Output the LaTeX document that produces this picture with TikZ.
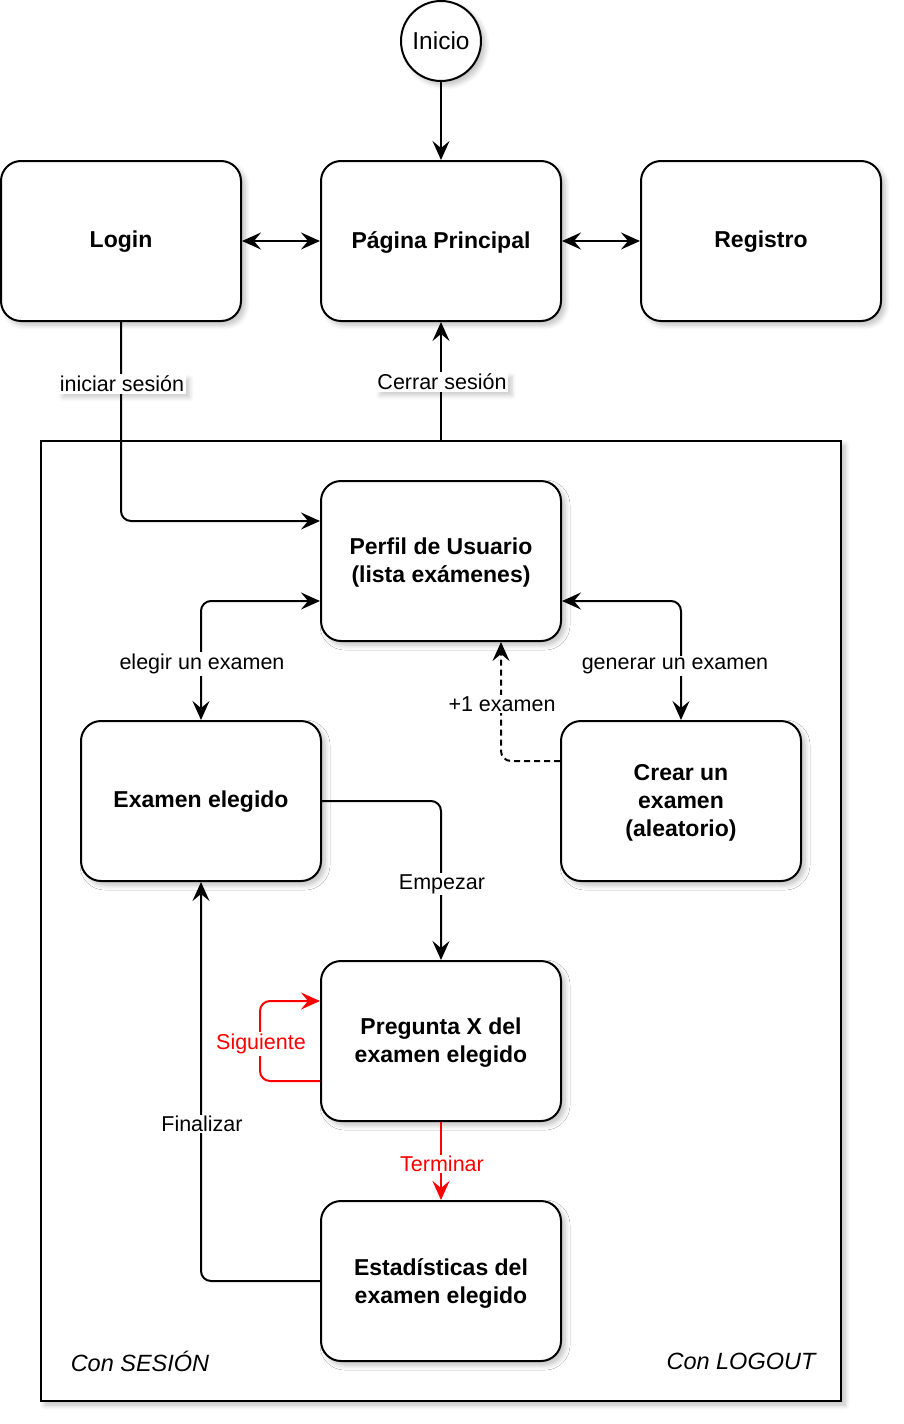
\documentclass[tikz,border=0pt]{standalone}
\usepackage{fontspec}
\setmainfont{Liberation Sans}
\usetikzlibrary{arrows.meta,shadows.blur,calc}
\begin{document}
\begin{tikzpicture}[x=1pt,y=-1pt,
  shd/.style={blur shadow={shadow xshift=4pt,shadow yshift=-4pt,shadow blur radius=5pt,shadow blur steps=6,shadow opacity=25}},
  box/.style={draw,line width=2pt,rounded corners=20pt,minimum width=240pt,minimum height=160pt,align=center,
    font=\fontsize{23}{28}\selectfont\bfseries,fill=white,shd},
  ln/.style={line width=2pt,rounded corners=10pt},
  arr/.style={ln,-{Stealth[length=19pt,width=17pt,inset=7pt]}},
  both/.style={ln,{Stealth[length=19pt,width=17pt,inset=7pt]}-{Stealth[length=19pt,width=17pt,inset=7pt]}},
  lbl/.style={fill=white,font=\fontsize{21.5}{25}\selectfont,inner sep=1.5pt},
  lshd/.style={lbl,blur shadow={shadow xshift=4pt,shadow yshift=-4pt,shadow blur radius=4pt,shadow blur steps=5,shadow opacity=20}},
  note/.style={font=\fontsize{23.5}{27}\selectfont\itshape}
]
\useasboundingbox (0,0) rectangle (904,1424);
% container
\node[draw,line width=2pt,minimum width=800pt,minimum height=960pt,fill=white,shd] (cont) at (441,921) {};
% nodes
\node[draw,circle,line width=2pt,minimum size=80pt,fill=white,shd,font=\fontsize{24.5}{28}\selectfont] (inicio) at (441,41) {Inicio};
\node[box] (login) at (121,241) {};
\node[box] (pp) at (441,241) {};
\node[box] (reg) at (761,241) {};
\node[box] (perfil) at (441,561) {};
\node[box] (examen) at (201,801) {};
\node[box] (crear) at (681,801) {};
\node[box] (preg) at (441,1041) {};
\node[box] (est) at (441,1281) {};
% box texts
\begin{scope}[every node/.style={align=center,font=\fontsize{23}{28}\selectfont\bfseries}]
\node (tlogin) at ([yshift=-1pt]login.center) {Login};
\node (tpp) at ([yshift=-1pt]pp.center) {Página Principal};
\node (treg) at ([yshift=-1pt]reg.center) {Registro};
\node (tperfil) at ([yshift=-2pt]perfil.center) {Perfil de Usuario\\(lista exámenes)};
\node (texamen) at ([yshift=-1pt]examen.center) {Examen elegido};
\node (tcrear) at ([yshift=-2pt]crear.center) {Crear un\\examen\\(aleatorio)};
\node (tpreg) at ([yshift=-2pt]preg.center) {Pregunta X del\\examen elegido};
\node (test) at ([yshift=-2pt]est.center) {Estadísticas del\\examen elegido};
\end{scope}
% connectors
\draw[arr] (inicio) -- (pp);
\draw[both] (login) -- (pp);
\draw[both] (pp) -- (reg);
\draw[arr] (login.south) |- ([yshift=40pt]perfil.west);
\draw[arr] (cont.north) -- (pp.south);
\draw[both] ([yshift=-40pt]perfil.west) -| (examen.north);
\draw[both] ([yshift=-40pt]perfil.east) -| (crear.north);
\draw[arr,dash pattern=on 6pt off 4pt] ([yshift=40pt]crear.west) -| ([xshift=60pt]perfil.south);
\draw[arr] (examen.east) -| (preg.north);
\draw[arr,red] ([yshift=-40pt]preg.west) -- ++(-60,0) -- ++(0,-80) -- ([yshift=40pt]preg.west);
\draw[arr,red] (preg.south) -- (est.north);
\draw[arr] (est.west) -| (examen.south);
% labels
\node[lshd] (l1) at (122,384) {iniciar sesión};
\node[lshd] (l2) at (442,382) {Cerrar sesión};
\node[lbl] (l3) at (202,664) {elegir un examen};
\node[lbl] (l4) at (675,666) {generar un examen};
\node[lbl] (l5) at (502,704) {+1 examen};
\node[lbl] (l6) at (442,884) {Empezar};
\node[lbl,text=red] (l7) at (261,1044) {Siguiente};
\node[lbl,text=red] (l8) at (442,1164) {Terminar};
\node[lbl] (l9) at (202,1124) {Finalizar};
\node[note] (n1) at (140,1361) {Con SESIÓN};
\node[note] (n2) at (741,1361) {Con LOGOUT};
\end{tikzpicture}
\end{document}
